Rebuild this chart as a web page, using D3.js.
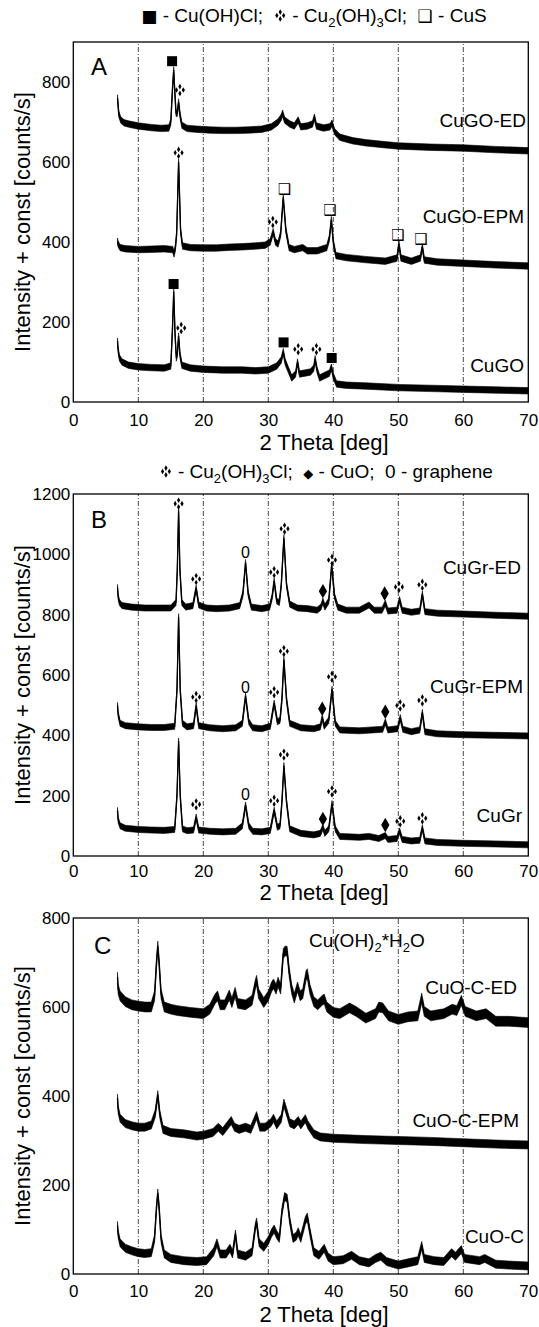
<!DOCTYPE html>
<html><head><meta charset="utf-8">
<script src="https://cdn.jsdelivr.net/npm/d3@7/dist/d3.min.js"></script>
<style>
body{margin:0;background:#fff}
svg{display:block}
text{font-family:"Liberation Sans",Arial,sans-serif;fill:#000}
.sym{font-family:"DejaVu Sans",sans-serif}
.leg{white-space:pre}
</style>
</head><body>
<svg id="c" width="539" height="1327"></svg>
<script>
// ---------- x axis ----------
const xTicks = [0,10,20,30,40,50,60,70];
const gridTheta = [10,20,30,40,50,60];

// ---------- Panel A ----------
const yTicksA = [0,200,400,600,800];
const namesA = ["CuGO-ED","CuGO-EPM","CuGO"];
const cuGO_ED = [[6.8,760],[6.9,740],[7.0,720],[7.3,705],[7.8,698],[8.5,695],[10,690],[12,686],[13.5,684],[14.7,685],[15.0,700],[15.25,780],[15.45,830],[15.6,780],[15.8,722],[16.0,722],[16.2,750],[16.4,720],[16.7,692],[17.5,684],[19,682],[21,680],[23,679],[25,679],[27,680],[29,682],[30.5,688],[31.5,700],[32.0,712],[32.2,722],[32.5,705],[33.3,695],[34.0,690],[34.6,705],[35.0,688],[36.0,690],[36.8,695],[37.1,712],[37.4,690],[38.5,685],[39.5,688],[39.8,697],[40.2,676],[41,662],[43,653],[45,648],[48,643],[50,640],[55,637],[60,635],[65,631],[70,628]];
const cuGO_EPM = [[6.8,402],[6.9,395],[7.2,386],[8,383],[10,381],[12,382],[14,383],[15.3,381],[15.5,370],[15.7,385],[15.9,420],[16.2,600],[16.5,430],[16.8,390],[18,386],[20,385],[22,385],[24,387],[26,388],[28,390],[29.5,392],[30.3,400],[30.75,426],[31.1,400],[31.5,395],[31.9,420],[32.3,512],[32.7,430],[33.2,386],[34,381],[35.3,386],[36,378],[37.5,378],[39.0,386],[39.4,410],[39.7,456],[40.0,400],[40.4,366],[42,361],[45,356],[48,352],[49.8,360],[50.1,396],[50.4,360],[52,352],[53.4,360],[53.7,388],[54,355],[56,350],[60,347],[65,343],[70,340]];
const cuGO = [[6.8,152],[6.9,130],[7.1,110],[7.5,100],[8.5,92],[10,88],[12,86],[14,85],[15.0,90],[15.25,180],[15.45,276],[15.65,170],[15.85,110],[16.0,120],[16.2,165],[16.4,120],[16.7,92],[18,85],[20,82],[23,80],[26,80],[28,78],[30,80],[31.3,90],[32.0,105],[32.3,126],[32.6,100],[33.1,80],[33.6,60],[34.2,70],[34.5,100],[34.8,70],[35.5,72],[36.5,75],[37.0,85],[37.2,108],[37.5,80],[37.9,60],[38.5,65],[39.4,72],[39.7,87],[40.0,65],[40.5,45],[42,42],[45,40],[50,36],[55,34],[60,32],[65,30],[70,28]];
const noiseA = [8,8,8];
const A_CuOHCl = [[15.2,852],[15.43,295],[32.35,149],[39.75,110]];
const A_Cu2OH3Cl = [[16.4,780],[16.2,623],[30.7,450],[16.6,185],[34.6,132],[37.4,132]];
const A_CuS = [[32.5,533],[39.5,480],[49.96,417],[53.5,407]];

// ---------- Panel B ----------
const yTicksB = [0,200,400,600,800,1000,1200];
const namesB = ["CuGr-ED","CuGr-EPM","CuGr"];
const cuGr_ED = [[6.8,890],[6.9,860],[7.1,840],[7.5,830],[9,825],[11,822],[13,822],[15,822],[15.8,840],[16.0,950],[16.2,1145],[16.4,950],[16.7,840],[17.3,825],[18.4,830],[18.9,888],[19.3,832],[20.5,822],[22,820],[24,822],[25.6,830],[26.1,870],[26.5,973],[26.9,870],[27.4,825],[29,820],[30.2,825],[30.6,860],[30.9,912],[31.3,845],[31.7,840],[32.0,900],[32.4,1055],[32.8,900],[33.3,835],[34.5,822],[36,820],[37.5,815],[38.1,825],[38.4,845],[38.7,825],[39.3,845],[39.75,964],[40.2,860],[40.7,825],[42,815],[44,815],[45.5,832],[46.3,815],[47.5,815],[48.0,838],[48.4,812],[49.8,815],[50.2,850],[50.6,815],[52,808],[53.3,812],[53.7,868],[54.1,810],[56,805],[60,802],[65,798],[70,795]];
const cuGr_EPM = [[6.8,499],[6.9,470],[7.2,440],[8,432],[10,428],[12,426],[14,426],[15.6,430],[15.95,550],[16.2,793],[16.45,550],[16.8,440],[17.5,428],[18.5,432],[18.9,499],[19.3,432],[21,425],[23,422],[25,425],[26.0,440],[26.5,530],[27.0,445],[27.6,425],[29,422],[30.3,430],[30.9,507],[31.4,445],[31.8,450],[32.1,520],[32.4,651],[32.8,520],[33.3,440],[35,425],[37,422],[38.0,428],[38.3,459],[38.6,430],[39.3,450],[39.8,553],[40.3,440],[41,418],[44,415],[46,418],[47.6,420],[48.0,445],[48.4,418],[49.9,422],[50.3,459],[50.7,420],[52,412],[53.3,418],[53.7,476],[54.1,412],[56,405],[60,402],[65,400],[70,398]];
const cuGr = [[6.8,151],[6.9,120],[7.2,100],[8,92],[10,88],[12,86],[14,85],[15.6,88],[15.95,200],[16.2,381],[16.45,200],[16.8,90],[17.5,84],[18.5,86],[18.9,129],[19.3,86],[21,82],[23,80],[25,82],[26.0,100],[26.5,169],[27.0,100],[27.6,82],[29,80],[30.3,85],[30.9,152],[31.4,95],[31.8,100],[32.1,180],[32.4,300],[32.8,180],[33.3,90],[35,75],[37,70],[38.0,75],[38.4,95],[38.7,75],[39.3,90],[39.8,174],[40.3,90],[41,65],[44,62],[45.5,65],[47,58],[48.0,68],[48.4,55],[49.8,58],[50.2,83],[50.6,55],[52,50],[53.3,52],[53.7,94],[54.1,50],[56,45],[60,42],[65,40],[70,37]];
const noiseB = [10,10,10];
const B_Cu2OH3Cl = [[16.2,1168],[18.9,918],[30.9,941],[32.5,1085],[39.8,981],[50.1,892],[53.7,899],
                    [18.9,527],[30.9,543],[32.4,679],[39.8,594],[50.3,499],[53.7,516],
                    [18.9,171],[30.9,183],[32.4,336],[39.8,214],[50.3,115],[53.7,125]];
const B_CuO = [[38.4,878],[47.9,870],[38.3,488],[48.0,478],[38.4,123],[48.0,103]];
const B_graphene = [[26.5,1007],[26.5,560],[26.5,203]];

// ---------- Panel C ----------
const yTicksC = [0,200,400,600,800];
const namesC = ["CuO-C-ED","CuO-C-EPM","CuO-C"];
const cuOC_ED = [[6.8,667],[6.9,640],[7.2,625],[8,612],[9,605],[10,602],[11,600],[12,600],[12.5,625],[12.8,700],[13.0,737],[13.2,700],[13.5,630],[14,600],[15,595],[16,592],[18,588],[20,585],[21,595],[21.8,618],[22.2,625],[22.6,605],[23.3,605],[24.0,627],[24.4,610],[24.9,633],[25.3,608],[26.5,605],[27.5,615],[28.0,650],[28.2,660],[28.5,630],[29.3,610],[30.0,625],[30.5,645],[30.8,652],[31.2,640],[31.5,656],[31.9,640],[32.3,720],[32.6,726],[32.9,725],[33.2,680],[33.6,640],[34.0,620],[34.5,645],[34.9,625],[35.3,630],[35.8,670],[36.0,675],[36.4,640],[37.0,612],[37.6,605],[38.3,615],[38.6,618],[39.0,600],[40,588],[41,585],[42.5,598],[43.5,590],[45,575],[46.5,585],[47.0,600],[47.6,598],[48.5,580],[50,572],[51.5,578],[53.0,580],[53.6,620],[54.0,590],[55,580],[57,585],[58.3,595],[59.0,592],[59.7,615],[60.3,590],[62,580],[63.5,585],[65,568],[67,568],[70,565]];
const cuOC_EPM = [[6.8,395],[6.9,370],[7.2,350],[8,338],[9,333],[10,330],[11,330],[12,335],[12.6,360],[13.0,403],[13.3,360],[13.8,325],[15,318],[17,315],[19,310],[20,312],[21.5,318],[22.3,330],[23,320],[24.3,345],[24.8,330],[25.5,325],[26.5,330],[27.3,325],[28.2,356],[28.7,330],[29.5,330],[30.4,340],[30.8,350],[31.3,335],[32.0,350],[32.4,384],[32.8,365],[33.3,340],[34.0,335],[34.6,345],[35.0,335],[35.7,349],[36.1,335],[37,315],[38,308],[40,305],[45,302],[50,300],[55,298],[60,295],[65,292],[70,290]];
const cuOC = [[6.8,109],[6.9,90],[7.2,70],[8,58],[9,52],[10,48],[11,46],[12,48],[12.5,80],[12.8,150],[13.0,182],[13.2,150],[13.5,80],[14,45],[15,35],[17,30],[19,28],[20.5,30],[21.6,50],[22.1,70],[22.6,45],[23.5,45],[24.1,58],[24.5,45],[24.95,90],[25.3,45],[26.5,40],[27.5,50],[28.0,105],[28.2,117],[28.6,70],[29.3,60],[30.0,75],[30.5,92],[30.9,101],[31.3,88],[31.7,80],[32.1,140],[32.5,174],[32.9,170],[33.3,120],[33.8,80],[34.3,85],[34.6,95],[35.0,80],[35.7,120],[36.0,128],[36.4,95],[37.0,50],[37.8,42],[38.6,58],[39.2,38],[40,30],[41.5,32],[42.8,42],[44,30],[45.5,25],[46.5,35],[47.3,40],[48.2,28],[50,20],[51.5,25],[53.0,30],[53.6,64],[54.0,35],[55.5,30],[57,28],[58.2,48],[58.8,40],[59.7,55],[60.2,35],[62.5,30],[63.3,35],[65,22],[67,20],[70,18]];
const noiseC = [11,9,9];

// ---------- drawing ----------
const svg = d3.select("#c");
const x = d3.scaleLinear().domain([0,70]).range([73.3,528.3]);

const panels = [
  {letter:"A", yDomain:[0,900], yRange:[402,42], yTicks:yTicksA, names:namesA,
   series:[cuGO_ED,cuGO_EPM,cuGO], noise:noiseA, tickPad:12,
   labelPos:[[526,127],[524,223],[524,372]], letterPos:[91,75], titleY:450},
  {letter:"B", yDomain:[0,1200], yRange:[856,494], yTicks:yTicksB, names:namesB,
   series:[cuGr_ED,cuGr_EPM,cuGr], noise:noiseB, tickPad:9,
   labelPos:[[521,574],[523,693],[522,822]], letterPos:[91,528], titleY:900},
  {letter:"C", yDomain:[0,800], yRange:[1274,918], yTicks:yTicksC, names:namesC,
   series:[cuOC_ED,cuOC_EPM,cuOC], noise:noiseC, tickPad:11,
   labelPos:[[517,994],[519,1127],[524,1243]], letterPos:[94,954], titleY:1322}
];

panels.forEach(p => {
  const y = d3.scaleLinear().domain(p.yDomain).range(p.yRange);
  p.y = y;
  const g = svg.append("g");
  const [yb, yt] = p.yRange;
  g.selectAll("line.grid").data(gridTheta).join("line")
    .attr("x1", d=>x(d)).attr("x2", d=>x(d)).attr("y1", yb).attr("y2", yt)
    .attr("stroke","#333").attr("stroke-width",0.9).attr("stroke-dasharray","5,2,1,2");
  p.series.forEach((s,i) => {
    const amp = p.noise[i];
    const area = d3.area().x(d=>x(d[0])).y0(d=>y(d[1]-amp)).y1(d=>y(d[1]+amp));
    g.append("path").attr("d", area(s)).attr("fill","#000").attr("stroke","#000").attr("stroke-width",0.6);
    const line = d3.line().x(d=>x(d[0])).y(d=>y(d[1]));
    g.append("path").attr("d", line(s)).attr("fill","none").attr("stroke","#000").attr("stroke-width",1.3);
  });
  g.append("rect").attr("x",x(0)).attr("y",yt).attr("width",x(70)-x(0)).attr("height",yb-yt)
    .attr("fill","none").attr("stroke","#000").attr("stroke-width",1.3);
  const xa = g.append("g").attr("transform",`translate(0,${yb})`)
    .call(d3.axisBottom(x).tickValues(xTicks).tickSize(0).tickPadding(p.tickPad));
  xa.select(".domain").remove();
  xa.selectAll("text").attr("font-size",17).attr("font-family","Liberation Sans, Arial, sans-serif");
  const ya = g.append("g").attr("transform",`translate(${x(0)},0)`)
    .call(d3.axisLeft(y).tickValues(p.yTicks).tickFormat(d3.format("d")).tickSize(0).tickPadding(3));
  ya.select(".domain").remove();
  ya.selectAll("text").attr("font-size",17).attr("font-family","Liberation Sans, Arial, sans-serif");
  g.append("text").attr("x",324).attr("y",p.titleY).attr("text-anchor","middle")
    .attr("font-size",22).text("2 Theta [deg]");
  g.append("text").attr("transform",`translate(30,${(yb+yt)/2}) rotate(-90)`)
    .attr("text-anchor","middle").attr("font-size",22).text("Intensity + const [counts/s]");
  g.append("text").attr("x",p.letterPos[0]).attr("y",p.letterPos[1]).attr("font-size",24).text(p.letter);
  p.names.forEach((n,i)=>{
    g.append("text").attr("x",p.labelPos[i][0]).attr("y",p.labelPos[i][1])
      .attr("text-anchor","end").attr("font-size",19).text(n);
  });
});

// ---------- markers ----------
const yA = panels[0].y, yB = panels[1].y;
const gm = svg.append("g");
const diamond = d3.symbol().type(d3.symbolDiamond).size(9);
const quadOffsets = [[0,-3.4],[3.4,0],[0,3.4],[-3.4,0]];
function quad(gsel, cx, cy) {
  quadOffsets.forEach(o => gsel.append("path").attr("d", diamond())
    .attr("transform",`translate(${cx+o[0]},${cy+o[1]})`).attr("fill","#000"));
}
gm.selectAll("rect.sq").data(A_CuOHCl).join("rect")
  .attr("x",d=>x(d[0])-5).attr("y",d=>yA(d[1])-5).attr("width",10).attr("height",10).attr("fill","#000");
A_Cu2OH3Cl.forEach(d => quad(gm, x(d[0]), yA(d[1])));
B_Cu2OH3Cl.forEach(d => quad(gm, x(d[0]), yB(d[1])));
gm.selectAll("text.cus").data(A_CuS).join("text")
  .attr("class","sym").attr("x",d=>x(d[0])).attr("y",d=>yA(d[1]))
  .attr("text-anchor","middle").attr("dominant-baseline","central")
  .attr("font-size",15).text("\u2751");
gm.selectAll("path.cuo").data(B_CuO).join("path")
  .attr("d", d3.symbol().type(d3.symbolDiamond).size(60)())
  .attr("transform",d=>`translate(${x(d[0])},${yB(d[1])})`).attr("fill","#000");
gm.selectAll("text.gr").data(B_graphene).join("text")
  .attr("x",d=>x(d[0])).attr("y",d=>yB(d[1]))
  .attr("text-anchor","middle").attr("dominant-baseline","central")
  .attr("font-size",16).text("0");

// ---------- legends ----------
function legend(yPos, cx, parts) {
  const t = svg.append("text").attr("class","leg").attr("xml:space","preserve")
    .attr("x",cx).attr("y",yPos).attr("text-anchor","middle").attr("font-size",19);
  const quadTs = [];
  parts.forEach(pt => {
    const ts = t.append("tspan").text(pt.t);
    if (pt.sym) ts.attr("class","sym").attr("font-size",pt.size||14);
    if (pt.quad) { ts.attr("fill-opacity",0); quadTs.push(ts.node()); }
    if (pt.sub) ts.attr("font-size",13).attr("dy",5);
    if (pt.up) ts.attr("dy",-5);
  });
  quadTs.forEach(n => {
    const b = n.getBBox();
    quad(svg, b.x + b.width/2, yPos - 6.5);
  });
}
legend(22, 314, [
  {t:"\u25A0",sym:true,size:17},{t:" - Cu(OH)Cl;  "},
  {t:"\u2756",sym:true,size:15,quad:true},{t:" - Cu"},{t:"2",sub:true},{t:"(OH)",up:true},{t:"3",sub:true},{t:"Cl;  ",up:true},
  {t:"\u2751",sym:true,size:17},{t:" - CuS"}
]);
legend(478, 326, [
  {t:"\u2756",sym:true,size:15,quad:true},{t:" - Cu"},{t:"2",sub:true},{t:"(OH)",up:true},{t:"3",sub:true},{t:"Cl;  ",up:true},
  {t:"\u25C6",sym:true,size:13},{t:" - CuO;  0 - graphene"}
]);
(function(){
  const t = svg.append("text").attr("x",309).attr("y",947).attr("font-size",19);
  t.append("tspan").text("Cu(OH)");
  t.append("tspan").text("2").attr("font-size",13).attr("dy",5);
  t.append("tspan").text("*H").attr("dy",-5);
  t.append("tspan").text("2").attr("font-size",13).attr("dy",5);
  t.append("tspan").text("O").attr("dy",-5);
})();
</script>
</body></html>
